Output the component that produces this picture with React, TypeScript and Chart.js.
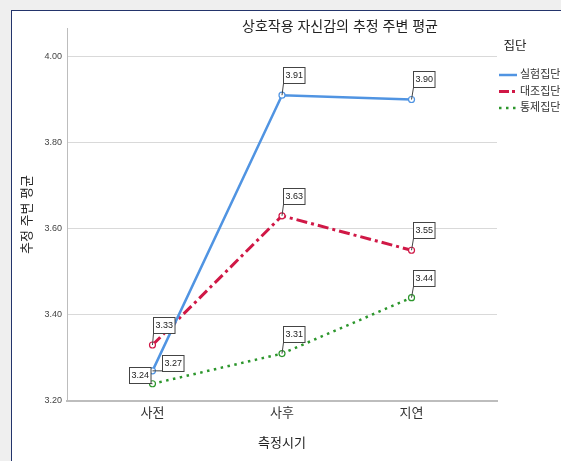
import React, { useEffect, useRef } from "react";
import { Chart, registerables } from "chart.js";

Chart.register(...registerables);

const categories = ["사전", "사후", "지연"];
const seriesNames = ["실험집단", "대조집단", "통제집단"];
const experimentalValues = [3.27, 3.91, 3.9];
const controlValues = [3.33, 3.63, 3.55];
const comparisonValues = [3.24, 3.31, 3.44];
const yTickValues = [3.2, 3.4, 3.6, 3.8, 4.0];

const chartTitle = "상호작용 자신감의 추정 주변 평균";
const xTitle = "측정시기";
const yTitle = "추정 주변 평균";
const legendTitle = "집단";

const FONT = "'Liberation Sans', 'Noto Sans CJK KR', Arial, sans-serif";

const colors = ["rgb(80,148,226)", "rgb(208,24,70)", "rgb(44,150,44)"];
const dashes: number[][] = [[], [11, 4, 3, 4], [2.5, 4.5]];
const widths = [2.5, 3, 2.5];

// label box placement: offset of box's top-left from the point
const defaultOffset = { dx: 1, dy: -28 };
const specialOffsets: Record<string, { dx: number; dy: number }> = {
  "0-0": { dx: 10, dy: -16 },
  "2-0": { dx: -23, dy: -17 },
};

const overlayPlugin = {
  id: "overlay",
  afterDatasetsDraw(chart: any) {
    const ctx = chart.ctx as CanvasRenderingContext2D;
    ctx.save();
    ctx.font = `9px ${FONT}`;
    ctx.textBaseline = "middle";
    ctx.textAlign = "center";
    chart.data.datasets.forEach((ds: any, di: number) => {
      const meta = chart.getDatasetMeta(di);
      meta.data.forEach((pt: any, i: number) => {
        const v = ds.data[i].y as number;
        const txt = v.toFixed(2);
        const off = specialOffsets[`${di}-${i}`] || defaultOffset;
        const w = ctx.measureText(txt).width + 4;
        const h = 16;
        const left = Math.round(pt.x + off.dx) + 0.5;
        const top = Math.round(pt.y + off.dy) + 0.5;
        const nx = Math.min(Math.max(pt.x, left), left + w);
        const ny = Math.min(Math.max(pt.y, top), top + h);
        ctx.strokeStyle = "#444";
        ctx.lineWidth = 1;
        ctx.setLineDash([]);
        ctx.beginPath();
        ctx.moveTo(nx, ny);
        ctx.lineTo(pt.x, pt.y);
        ctx.stroke();
        ctx.fillStyle = "#fff";
        ctx.fillRect(left, top, w, h);
        ctx.strokeRect(left, top, w, h);
        ctx.fillStyle = "#222";
        ctx.fillText(txt, left + w / 2, top + h / 2 + 0.5);
      });
    });
    ctx.restore();
  },
  afterDraw(chart: any) {
    const ctx = chart.ctx as CanvasRenderingContext2D;
    ctx.save();
    ctx.fillStyle = "#222";
    ctx.font = `14px ${FONT}`;
    ctx.textAlign = "center";
    ctx.textBaseline = "middle";
    ctx.fillText(chartTitle, 340, 27);
    ctx.font = `12.5px ${FONT}`;
    ctx.fillText(legendTitle, 515, 47);
    ctx.font = `11px ${FONT}`;
    ctx.textAlign = "left";
    seriesNames.forEach((name, i) => {
      const y = 75 + i * 16.5;
      ctx.strokeStyle = colors[i];
      ctx.lineWidth = widths[i];
      ctx.setLineDash(i === 1 ? [10, 3, 3, 3] : dashes[i]);
      ctx.beginPath();
      ctx.moveTo(499, y);
      ctx.lineTo(517, y);
      ctx.stroke();
      ctx.setLineDash([]);
      ctx.fillStyle = "#333";
      ctx.fillText(name, 520, y);
    });
    ctx.restore();
  },
};

function makeDataset(label: string, values: number[], i: number) {
  return {
    label,
    data: values.map((v, k) => ({ x: k, y: v })),
    borderColor: colors[i],
    borderWidth: widths[i],
    borderDash: dashes[i],
    pointRadius: 3,
    pointBorderWidth: 1.2,
    pointBackgroundColor: "#fff",
    pointBorderColor: colors[i],
    tension: 0,
    fill: false,
  };
}

export default function App() {
  const ref = useRef<HTMLCanvasElement | null>(null);
  useEffect(() => {
    if (!ref.current) return;
    const chart = new Chart(ref.current, {
      type: "line",
      data: {
        datasets: [
          makeDataset(seriesNames[0], experimentalValues, 0),
          makeDataset(seriesNames[1], controlValues, 1),
          makeDataset(seriesNames[2], comparisonValues, 2),
        ],
      },
      options: {
        animation: false,
        responsive: false,
        devicePixelRatio: 1,
        layout: { padding: { left: 11, right: 64, top: 28, bottom: 0 } },
        plugins: {
          legend: { display: false },
          title: { display: false },
          tooltip: { enabled: false },
        },
        scales: {
          x: {
            type: "linear",
            min: -0.66,
            max: 2.66,
            afterBuildTicks: (s: any) => {
              s.ticks = categories.map((_, k) => ({ value: k }));
            },
            afterFit: (s: any) => {
              s.height = 60;
            },
            ticks: {
              callback: (v: any) => categories[v as number] ?? "",
              font: { family: FONT, size: 13 },
              color: "#333",
              padding: 5,
              maxRotation: 0,
            },
            grid: { display: false, drawTicks: false },
            border: { display: true, color: "#bdbdbd", width: 2 },
            title: {
              display: true,
              text: xTitle,
              font: { family: FONT, size: 13 },
              color: "#222",
              padding: { top: 0, bottom: 10 },
            },
          },
          y: {
            type: "linear",
            min: 3.2,
            max: 4.066,
            afterBuildTicks: (s: any) => {
              s.ticks = yTickValues.map((v) => ({ value: v }));
            },
            afterFit: (s: any) => {
              s.width = 56;
            },
            ticks: {
              callback: (v: any) => Number(v).toFixed(2),
              font: { family: FONT, size: 9 },
              color: "#444",
              padding: 5,
            },
            grid: { color: "#d9d9d9", lineWidth: 1, drawTicks: false },
            border: { display: true, color: "#bdbdbd", width: 1 },
            title: {
              display: true,
              text: yTitle,
              font: { family: FONT, size: 13 },
              color: "#222",
              padding: { top: 9, bottom: 0 },
            },
          },
        },
      } as any,
      plugins: [overlayPlugin],
    });
    return () => chart.destroy();
  }, []);

  return (
    <div
      style={{
        position: "fixed",
        left: 0,
        top: 0,
        width: 561,
        height: 461,
        background: "#efefef",
        overflow: "hidden",
      }}
    >
      <div
        style={{
          position: "absolute",
          left: 11,
          top: 10,
          width: 560,
          height: 460,
          background: "#fff",
          borderLeft: "1px solid #23346b",
          borderTop: "1px solid #23346b",
        }}
      />
      <canvas
        ref={ref}
        width={561}
        height={461}
        style={{ position: "absolute", left: 0, top: 0, width: 561, height: 461 }}
      />
    </div>
  );
}
